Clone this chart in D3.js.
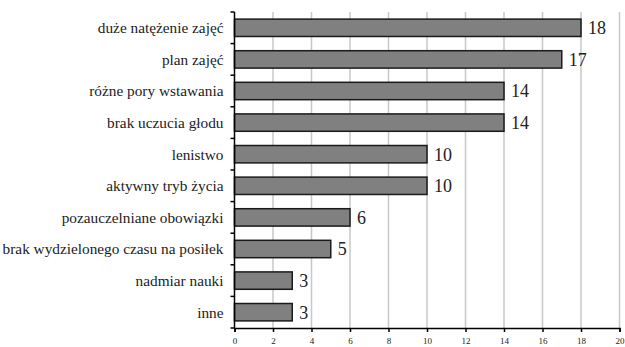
<!DOCTYPE html>
<html><head><meta charset="utf-8">
<script src="https://cdn.jsdelivr.net/npm/d3@7"></script>
<style>body{margin:0;background:#fff}</style>
</head><body>
<svg id="c" width="625" height="347"></svg>
<script>
const categories = ["duże natężenie zajęć","plan zajęć","różne pory wstawania","brak uczucia głodu","lenistwo","aktywny tryb życia","pozauczelniane obowiązki","brak wydzielonego czasu na posiłek","nadmiar nauki","inne"];
const values = [18,17,14,14,10,10,6,5,3,3];
const xTicks = [0,2,4,6,8,10,12,14,16,18,20];

const FONT = '"Liberation Serif", "Times New Roman", Tinos, serif';
const svg = d3.select("#c");
const mLeft = 234.5, mRight = 619.5, mTop = 12, mBottom = 328;
const x = d3.scaleLinear().domain([0,20]).range([mLeft,mRight]);
const y = d3.scaleBand().domain(categories).range([mTop,mBottom]).paddingInner(0.45).paddingOuter(0.225);

// gridlines
svg.append("g").selectAll("line").data(xTicks.slice(1)).join("line")
  .attr("x1",d=>x(d)).attr("x2",d=>x(d)).attr("y1",mTop).attr("y2",mBottom)
  .attr("stroke","#c8c8c8").attr("stroke-width",1.5);

// bars
svg.append("g").selectAll("rect").data(values).join("rect")
  .attr("x",x(0)).attr("y",(d,i)=>y(categories[i]))
  .attr("width",d=>x(d)-x(0)).attr("height",y.bandwidth())
  .attr("fill","#808080").attr("stroke","#1a1a1a").attr("stroke-width",1.5);

// value labels
svg.append("g").selectAll("text").data(values).join("text")
  .attr("x",d=>x(d)+7).attr("y",(d,i)=>y(categories[i])+y.bandwidth()/2)
  .attr("dy","0.35em").style("font-family",FONT).attr("font-size",18)
  .attr("fill","#222").text(d=>d);

// y axis
const ya = svg.append("g");
ya.append("line").attr("x1",mLeft).attr("x2",mLeft).attr("y1",mTop).attr("y2",mBottom).attr("stroke","#000").attr("stroke-width",1.5);
const bounds = d3.range(categories.length+1).map(i=>mTop+i*(mBottom-mTop)/categories.length);
ya.selectAll("line.t").data(bounds).join("line").attr("class","t")
  .attr("x1",mLeft-4).attr("x2",mLeft).attr("y1",d=>d).attr("y2",d=>d).attr("stroke","#000").attr("stroke-width",1.5);
ya.selectAll("text").data(categories).join("text")
  .attr("x",mLeft-11).attr("y",d=>y(d)+y.bandwidth()/2).attr("dy","0.35em")
  .attr("text-anchor","end").style("font-family",FONT).attr("font-size",15.3)
  .attr("fill","#222").text(d=>d);

// x axis
const xa = svg.append("g").attr("transform",`translate(0,${mBottom})`)
  .call(d3.axisBottom(x).tickValues(xTicks).tickSize(4).tickPadding(6));
xa.select(".domain").attr("stroke","#000").attr("stroke-width",1.5);
xa.selectAll(".tick line").attr("stroke","#000").attr("stroke-width",1.5);
xa.selectAll("text").style("font-family",FONT).attr("font-size",9).attr("fill","#222");
</script>
</body></html>
